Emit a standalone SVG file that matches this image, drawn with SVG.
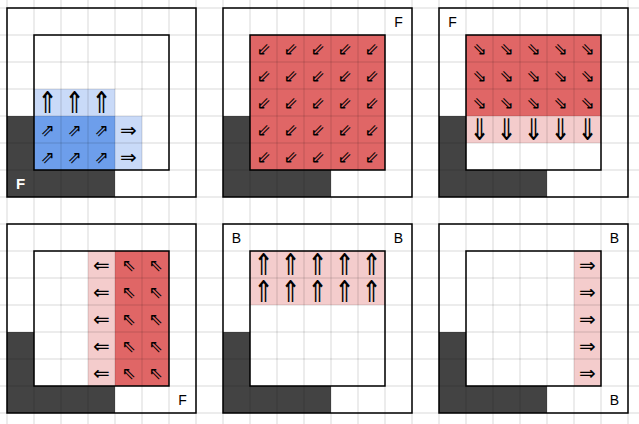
<svg xmlns="http://www.w3.org/2000/svg" xmlns:xlink="http://www.w3.org/1999/xlink" width="639" height="424" viewBox="0 0 639 424">
<style>
.dk{fill:#434343}
.lb{fill:#c9daf8}
.mb{fill:#6d9eeb}
.rd{fill:#e06666}
.pk{fill:#f4cccc}
.fr{fill:none;stroke:#000;stroke-width:1.5}
.gl{stroke:#000;stroke-opacity:0.15;stroke-width:1}
.lbl{font-family:"Liberation Sans",Arial,sans-serif;font-size:14px;fill:#000;text-anchor:middle;dominant-baseline:central}
.ar{font-family:"DejaVu Sans",sans-serif;fill:#000;text-anchor:middle;dominant-baseline:central}
.h{font-size:20px}
.v{font-size:24px}
.d{font-size:17px}
</style>
<defs>
<path id="dark" class="dk" d="M0,108H27V162H108V189H0Z"/>
<g id="frame"><rect class="fr" x="0" y="0" width="189" height="189"/><rect class="fr" x="27" y="27" width="135" height="135"/></g>
<text id="up" class="ar v" transform="scale(1,1.25)">⇑</text>
<text id="down" class="ar v" transform="scale(1,1.25)">⇓</text>
</defs>
<rect width="639" height="424" fill="#fff"/>

<g id="fills">
<g id="p1-fill" transform="translate(7,8)">
<use xlink:href="#dark"/>
<rect class="lb" x="27" y="81" width="81" height="27"/>
<rect class="mb" x="27" y="108" width="81" height="54"/>
<rect class="lb" x="108" y="108" width="27" height="54"/>
</g>
<g id="p2-fill" transform="translate(223,8)">
<use xlink:href="#dark"/>
<rect class="rd" x="27" y="27" width="135" height="135"/>
</g>
<g id="p3-fill" transform="translate(439,8)">
<use xlink:href="#dark"/>
<rect class="rd" x="27" y="27" width="135" height="81"/>
<rect class="pk" x="27" y="108" width="135" height="27"/>
</g>
<g id="p4-fill" transform="translate(7,224)">
<use xlink:href="#dark"/>
<rect class="pk" x="81" y="27" width="27" height="135"/>
<rect class="rd" x="108" y="27" width="54" height="135"/>
</g>
<g id="p5-fill" transform="translate(223,224)">
<use xlink:href="#dark"/>
<rect class="pk" x="27" y="27" width="135" height="54"/>
</g>
<g id="p6-fill" transform="translate(439,224)">
<use xlink:href="#dark"/>
<rect class="pk" x="135" y="27" width="27" height="135"/>
</g>
</g>

<g id="grid" class="gl">
<path d="M7,0V424M34,0V424M61,0V424M88,0V424M115,0V424M142,0V424M169,0V424M196,0V424M223,0V424M250,0V424M277,0V424M304,0V424M331,0V424M358,0V424M385,0V424M412,0V424M439,0V424M466,0V424M493,0V424M520,0V424M547,0V424M574,0V424M601,0V424M628,0V424"/>
<path d="M0,8H639M0,35H639M0,62H639M0,89H639M0,116H639M0,143H639M0,170H639M0,197H639M0,224H639M0,251H639M0,278H639M0,305H639M0,332H639M0,359H639M0,386H639M0,413H639"/>
</g>

<g id="panel1" transform="translate(7,8)">
<use xlink:href="#frame"/>
<text class="lbl" x="13.5" y="175.5" style="fill:#fff;font-weight:bold;font-size:15px">F</text>
<g transform="translate(0,94.5)"><use xlink:href="#up" x="40.5"/><use xlink:href="#up" x="67.5"/><use xlink:href="#up" x="94.5"/></g>
<text class="ar d" x="40.5" y="121.5">⇗</text><text class="ar d" x="67.5" y="121.5">⇗</text><text class="ar d" x="94.5" y="121.5">⇗</text>
<text class="ar d" x="40.5" y="148.5">⇗</text><text class="ar d" x="67.5" y="148.5">⇗</text><text class="ar d" x="94.5" y="148.5">⇗</text>
<text class="ar h" x="121.5" y="121.5">⇒</text><text class="ar h" x="121.5" y="148.5">⇒</text>
</g>

<g id="panel2" transform="translate(223,8)">
<use xlink:href="#frame"/>
<text class="lbl" x="175.5" y="13.5">F</text>
<g class="ar d">
<text x="40.5" y="40.5">⇙</text><text x="67.5" y="40.5">⇙</text><text x="94.5" y="40.5">⇙</text><text x="121.5" y="40.5">⇙</text><text x="148.5" y="40.5">⇙</text>
<text x="40.5" y="67.5">⇙</text><text x="67.5" y="67.5">⇙</text><text x="94.5" y="67.5">⇙</text><text x="121.5" y="67.5">⇙</text><text x="148.5" y="67.5">⇙</text>
<text x="40.5" y="94.5">⇙</text><text x="67.5" y="94.5">⇙</text><text x="94.5" y="94.5">⇙</text><text x="121.5" y="94.5">⇙</text><text x="148.5" y="94.5">⇙</text>
<text x="40.5" y="121.5">⇙</text><text x="67.5" y="121.5">⇙</text><text x="94.5" y="121.5">⇙</text><text x="121.5" y="121.5">⇙</text><text x="148.5" y="121.5">⇙</text>
<text x="40.5" y="148.5">⇙</text><text x="67.5" y="148.5">⇙</text><text x="94.5" y="148.5">⇙</text><text x="121.5" y="148.5">⇙</text><text x="148.5" y="148.5">⇙</text>
</g>
</g>

<g id="panel3" transform="translate(439,8)">
<use xlink:href="#frame"/>
<text class="lbl" x="13.5" y="13.5">F</text>
<g class="ar d">
<text x="40.5" y="40.5">⇘</text><text x="67.5" y="40.5">⇘</text><text x="94.5" y="40.5">⇘</text><text x="121.5" y="40.5">⇘</text><text x="148.5" y="40.5">⇘</text>
<text x="40.5" y="67.5">⇘</text><text x="67.5" y="67.5">⇘</text><text x="94.5" y="67.5">⇘</text><text x="121.5" y="67.5">⇘</text><text x="148.5" y="67.5">⇘</text>
<text x="40.5" y="94.5">⇘</text><text x="67.5" y="94.5">⇘</text><text x="94.5" y="94.5">⇘</text><text x="121.5" y="94.5">⇘</text><text x="148.5" y="94.5">⇘</text>
</g>
<g transform="translate(0,121.5)"><use xlink:href="#down" x="40.5"/><use xlink:href="#down" x="67.5"/><use xlink:href="#down" x="94.5"/><use xlink:href="#down" x="121.5"/><use xlink:href="#down" x="148.5"/></g>
</g>

<g id="panel4" transform="translate(7,224)">
<use xlink:href="#frame"/>
<text class="lbl" x="175.5" y="175.5">F</text>
<g class="ar h">
<text x="94.5" y="40.5">⇐</text><text x="94.5" y="67.5">⇐</text><text x="94.5" y="94.5">⇐</text><text x="94.5" y="121.5">⇐</text><text x="94.5" y="148.5">⇐</text>
</g>
<g class="ar d">
<text x="121.5" y="40.5">⇖</text><text x="148.5" y="40.5">⇖</text>
<text x="121.5" y="67.5">⇖</text><text x="148.5" y="67.5">⇖</text>
<text x="121.5" y="94.5">⇖</text><text x="148.5" y="94.5">⇖</text>
<text x="121.5" y="121.5">⇖</text><text x="148.5" y="121.5">⇖</text>
<text x="121.5" y="148.5">⇖</text><text x="148.5" y="148.5">⇖</text>
</g>
</g>

<g id="panel5" transform="translate(223,224)">
<use xlink:href="#frame"/>
<text class="lbl" x="13.5" y="13.5">B</text>
<text class="lbl" x="175.5" y="13.5">B</text>
<g transform="translate(0,40.5)"><use xlink:href="#up" x="40.5"/><use xlink:href="#up" x="67.5"/><use xlink:href="#up" x="94.5"/><use xlink:href="#up" x="121.5"/><use xlink:href="#up" x="148.5"/></g>
<g transform="translate(0,67.5)"><use xlink:href="#up" x="40.5"/><use xlink:href="#up" x="67.5"/><use xlink:href="#up" x="94.5"/><use xlink:href="#up" x="121.5"/><use xlink:href="#up" x="148.5"/></g>
</g>

<g id="panel6" transform="translate(439,224)">
<use xlink:href="#frame"/>
<text class="lbl" x="175.5" y="13.5">B</text>
<text class="lbl" x="175.5" y="175.5">B</text>
<g class="ar h">
<text x="148.5" y="40.5">⇒</text><text x="148.5" y="67.5">⇒</text><text x="148.5" y="94.5">⇒</text><text x="148.5" y="121.5">⇒</text><text x="148.5" y="148.5">⇒</text>
</g>
</g>

<g id="connectors"/>
</svg>
